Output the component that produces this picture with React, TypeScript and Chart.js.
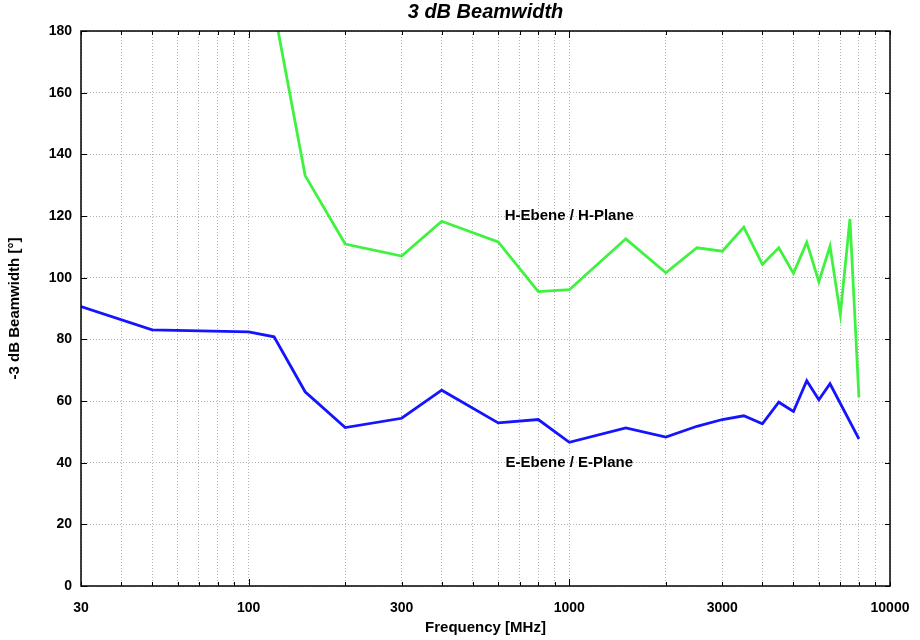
import React, { useEffect, useRef } from "react";
import { Chart, registerables } from "chart.js";

Chart.register(...registerables);

const TITLE = "3 dB Beamwidth";
const X_TITLE = "Frequency [MHz]";
const Y_TITLE = "-3 dB Beamwidth [°]";

const ePlaneFreq = [30, 50, 100, 120, 150, 200, 300, 400, 600, 800, 1000, 1500, 2000, 2500, 3000, 3500, 4000, 4500, 5000, 5500, 6000, 6500, 8000];
const ePlaneVals = [90.6, 83.1, 82.4, 80.8, 63.0, 51.4, 54.4, 63.5, 52.9, 54.0, 46.6, 51.3, 48.3, 51.8, 54.0, 55.2, 52.6, 59.6, 56.6, 66.6, 60.4, 65.6, 47.7];

const hPlaneFreq = [120, 150, 200, 300, 400, 600, 800, 1000, 1500, 2000, 2500, 3000, 3500, 4000, 4500, 5000, 5500, 6000, 6500, 7000, 7500, 8000];
const hPlaneVals = [187, 133.1, 110.9, 107.0, 118.3, 111.6, 95.5, 96.1, 112.6, 101.6, 109.7, 108.6, 116.4, 104.3, 109.7, 101.4, 111.5, 98.7, 110.2, 88.1, 119.1, 61.2];

const xGridValues = [30, 40, 50, 60, 70, 80, 90, 100, 200, 300, 400, 500, 600, 700, 800, 900, 1000, 2000, 3000, 4000, 5000, 6000, 7000, 8000, 9000, 10000];
const xLabelValues = [30, 100, 300, 1000, 3000, 10000];
const xMajorTicks = [100, 1000];
const yTickValues = [0, 20, 40, 60, 80, 100, 120, 140, 160, 180];

const hLabel = { text: "H-Ebene / H-Plane", x: 1000, y: 120 };
const eLabel = { text: "E-Ebene / E-Plane", x: 1000, y: 40 };

const GREEN = "#3ff23f";
const BLUE = "#1414ff";
const FONT = "'Liberation Sans', Arial, Helvetica, sans-serif";

const decorPlugin = {
  id: "decor",
  afterDatasetsDraw(chart: any) {
    const { ctx, chartArea: a, scales } = chart;
    const xs = scales.x;
    const ys = scales.y;
    ctx.save();
    ctx.strokeStyle = "#000";
    ctx.lineWidth = 1.5;
    ctx.setLineDash([]);
    ctx.strokeRect(a.left, a.top, a.right - a.left, a.bottom - a.top);
    ctx.lineWidth = 1;
    ctx.beginPath();
    for (const v of xGridValues) {
      const px = Math.round(xs.getPixelForValue(v)) + 0.5;
      const len = xMajorTicks.includes(v) ? 7 : 4;
      ctx.moveTo(px, a.bottom);
      ctx.lineTo(px, a.bottom - len);
      ctx.moveTo(px, a.top);
      ctx.lineTo(px, a.top + len);
    }
    for (const v of yTickValues) {
      const py = Math.round(ys.getPixelForValue(v)) + 0.5;
      ctx.moveTo(a.left, py);
      ctx.lineTo(a.left + 6, py);
      ctx.moveTo(a.right, py);
      ctx.lineTo(a.right - 5, py);
    }
    ctx.stroke();
    ctx.fillStyle = "#000";
    ctx.font = `bold 15px ${FONT}`;
    ctx.textAlign = "center";
    ctx.textBaseline = "middle";
    for (const l of [hLabel, eLabel]) {
      ctx.fillText(l.text, xs.getPixelForValue(l.x), ys.getPixelForValue(l.y));
    }
    ctx.font = `italic bold 20px ${FONT}`;
    ctx.fillText(TITLE, (a.left + a.right) / 2, 12);
    ctx.restore();
  },
};

export default function App() {
  const ref = useRef<HTMLCanvasElement | null>(null);
  useEffect(() => {
    if (!ref.current) return;
    const chart = new Chart(ref.current, {
      type: "scatter",
      data: {
        datasets: [
          {
            label: "H-Plane",
            data: hPlaneFreq.map((f, i) => ({ x: f, y: hPlaneVals[i] })),
            showLine: true,
            borderColor: GREEN,
            backgroundColor: GREEN,
            borderWidth: 2.8,
            pointRadius: 0,
            tension: 0,
          },
          {
            label: "E-Plane",
            data: ePlaneFreq.map((f, i) => ({ x: f, y: ePlaneVals[i] })),
            showLine: true,
            borderColor: BLUE,
            backgroundColor: BLUE,
            borderWidth: 2.8,
            pointRadius: 0,
            tension: 0,
          },
        ],
      },
      options: {
        responsive: false,
        animation: false,
        layout: { padding: { top: 31, right: 30, left: 0, bottom: 0 } },
        plugins: {
          legend: { display: false },
          tooltip: { enabled: false },
          title: { display: false },
        },
        scales: {
          x: {
            type: "logarithmic",
            min: 30,
            max: 10000,
            afterBuildTicks: (s: any) => {
              s.ticks = xGridValues.map((v) => ({ value: v }));
            },
            afterFit: (s: any) => {
              s.height = 54;
              s.paddingLeft = 0;
              s.paddingRight = 0;
            },
            grid: { color: "#b4b4b4", lineWidth: 1, drawTicks: false },
            border: { display: false, dash: [1, 2] },
            ticks: {
              autoSkip: false,
              maxRotation: 0,
              padding: 14,
              color: "#000",
              font: { family: FONT, size: 14, weight: "bold" },
              callback: (v: any) => (xLabelValues.includes(Number(v)) ? String(v) : ""),
            },
            title: {
              display: true,
              text: X_TITLE,
              color: "#000",
              font: { family: FONT, size: 15, weight: "bold" },
              padding: { top: 0, bottom: 3 },
            },
          },
          y: {
            type: "linear",
            min: 0,
            max: 180,
            afterBuildTicks: (s: any) => {
              s.ticks = yTickValues.map((v) => ({ value: v }));
            },
            afterFit: (s: any) => {
              s.width = 81;
              s.paddingTop = 0;
              s.paddingBottom = 0;
            },
            grid: { color: "#b4b4b4", lineWidth: 1, drawTicks: false },
            border: { display: false, dash: [1, 2] },
            ticks: {
              padding: 9,
              color: "#000",
              font: { family: FONT, size: 14, weight: "bold" },
            },
            title: {
              display: true,
              text: Y_TITLE,
              color: "#000",
              font: { family: FONT, size: 15, weight: "bold" },
              padding: { top: 6, bottom: 0 },
            },
          },
        },
      },
      plugins: [decorPlugin],
    } as any);
    return () => chart.destroy();
  }, []);
  return (
    <div style={{ position: "absolute", left: 0, top: 0, width: 920, height: 640, background: "#fff" }}>
      <canvas ref={ref} width={920} height={640} style={{ display: "block" }} />
    </div>
  );
}
